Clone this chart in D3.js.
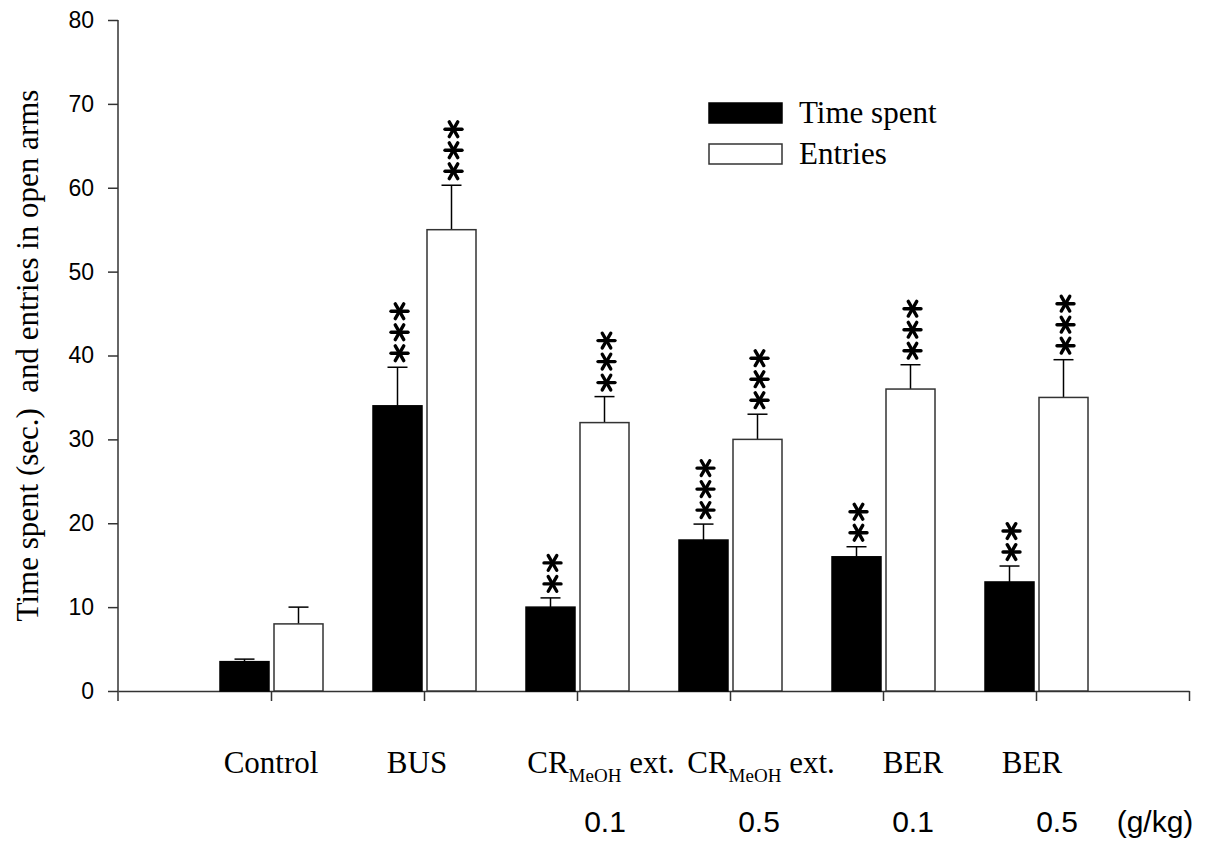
<!DOCTYPE html>
<html>
<head>
<meta charset="utf-8">
<script src="https://cdn.jsdelivr.net/npm/d3@7"></script>
<style>
  body { margin: 0; background: #fff; }
  svg { display: block; }
</style>
</head>
<body>
<script>
'use strict';

// values
const groups      = ['Control', 'BUS', 'CR|MeOH| ext.', 'CR|MeOH| ext.', 'BER', 'BER']
const doses       = ['', '', '0.1', '0.5', '0.1', '0.5']
const doseUnit    = '(g/kg)'
const timeSpent   = [3.5, 34, 10, 18, 16, 13]
const timeErr     = [0.3, 4.6, 1.1, 1.9, 1.2, 1.9]
const entries     = [8, 55, 32, 30, 36, 35]
const entriesErr  = [2, 5.3, 3.1, 3, 2.9, 4.5]
const timeStars   = [0, 3, 2, 3, 2, 2]
const entryStars  = [0, 3, 3, 3, 3, 3]
const yTicks      = [0, 10, 20, 30, 40, 50, 60, 70, 80]
const seriesNames = ['Time spent', 'Entries']

const W = 1227, H = 854
const SERIF = '"Liberation Serif", "Times New Roman", serif'
const SANS  = '"Liberation Sans", Arial, sans-serif'
const INK   = '#000'
const AXIS  = '#333'

const barW = 49
const capW = 20

const svg = d3.select('body')
  .append('svg')
  .attr('width', W)
  .attr('height', H)

const x = d3.scaleLinear().domain([0, groups.length + 1]).range([118, 1189])
const y = d3.scaleLinear().domain([0, 80]).range([691, 20])

// y axis
const yAxis = svg.append('g')
  .attr('transform', `translate(${ x(0) },0)`)
  .call(d3.axisLeft(y).tickValues(yTicks).tickSize(10).tickPadding(14).tickSizeOuter(0))
yAxis.select('.domain').remove()
yAxis.selectAll('.tick line').attr('stroke', AXIS).attr('stroke-width', 1.5)
yAxis.selectAll('.tick text')
  .attr('fill', INK)
  .style('font-family', SANS)
  .style('font-size', '23px')
svg.append('line')
  .attr('x1', x(0)).attr('x2', x(0))
  .attr('y1', y(80)).attr('y2', y(0) + 10)
  .attr('stroke', AXIS).attr('stroke-width', 1.5)

// x axis
const xAxis = svg.append('g')
  .attr('transform', `translate(0,${ y(0) })`)
  .call(d3.axisBottom(x).tickValues(d3.range(1, groups.length + 2)).tickSize(10).tickSizeOuter(0).tickFormat(''))
xAxis.select('.domain').attr('stroke', AXIS).attr('stroke-width', 1.5)
xAxis.selectAll('.tick line').attr('stroke', AXIS).attr('stroke-width', 1.5)

// bars
const series = [
  { vals: timeSpent, errs: timeErr,    stars: timeStars,  fill: '#000', stroke: '#000', off: -barW - 2 },
  { vals: entries,   errs: entriesErr, stars: entryStars, fill: '#fff', stroke: '#333', off: 3 }
]

series.forEach(s => {
  const g = svg.append('g')
  const idx = d3.range(groups.length)

  // error bars (upper only)
  g.selectAll('line.err')
    .data(idx).join('line')
    .attr('class', 'err')
    .attr('x1', i => x(i + 1) + s.off + barW / 2)
    .attr('x2', i => x(i + 1) + s.off + barW / 2)
    .attr('y1', i => y(s.vals[i]))
    .attr('y2', i => y(s.vals[i] + s.errs[i]))
    .attr('stroke', INK).attr('stroke-width', 1.5)
  g.selectAll('line.cap')
    .data(idx).join('line')
    .attr('class', 'cap')
    .attr('x1', i => x(i + 1) + s.off + barW / 2 - capW / 2)
    .attr('x2', i => x(i + 1) + s.off + barW / 2 + capW / 2)
    .attr('y1', i => y(s.vals[i] + s.errs[i]))
    .attr('y2', i => y(s.vals[i] + s.errs[i]))
    .attr('stroke', INK).attr('stroke-width', 1.5)

  g.selectAll('rect')
    .data(idx).join('rect')
    .attr('x', i => x(i + 1) + s.off)
    .attr('y', i => y(s.vals[i]))
    .attr('width', barW)
    .attr('height', i => y(0) - y(s.vals[i]))
    .attr('fill', s.fill)
    .attr('stroke', s.stroke)
    .attr('stroke-width', 1.5)

  // significance asterisks
  idx.forEach(i => {
    const cx = x(i + 1) + s.off + barW / 2 + 2
    const top = y(s.vals[i] + s.errs[i])
    for (let k = 0; k < s.stars[i]; k++) {
      drawStar(cx, top - 14 - k * 21)
    }
  })
})

function drawStar(cx, cy) {
  const r = 8.5
  const g = svg.append('g').attr('transform', `translate(${ cx },${ cy })`)
  ;[0, 60, 120].forEach(a => {
    const t = a * Math.PI / 180
    g.append('line')
      .attr('x1', -r * Math.cos(t)).attr('y1', -r * Math.sin(t))
      .attr('x2',  r * Math.cos(t)).attr('y2',  r * Math.sin(t))
      .attr('stroke', INK)
      .attr('stroke-width', 3.4)
      .attr('stroke-linecap', 'round')
  })
}

// category labels (small nudges to match the original placement)
const labelNudge = [0, -7, 24, 31, 30, -4]
const doseNudge  = [0, 0, 28, 29, 30, 21]

groups.forEach((name, i) => {
  const parts = name.split('|')
  const t = svg.append('text')
    .attr('x', x(i + 1) + labelNudge[i])
    .attr('y', 773)
    .attr('text-anchor', 'middle')
    .style('font-family', SERIF)
    .style('font-size', '31px')
    .attr('fill', INK)
  t.append('tspan').text(parts[0])
  if (parts.length > 1) {
    t.append('tspan').attr('dy', 9).style('font-size', '19px').text(parts[1])
    t.append('tspan').attr('dy', -9).text(parts[2])
  }
})

doses.forEach((d, i) => {
  if (!d) return
  svg.append('text')
    .attr('x', x(i + 1) + doseNudge[i])
    .attr('y', 832)
    .attr('text-anchor', 'middle')
    .style('font-family', SANS)
    .style('font-size', '30px')
    .attr('fill', INK)
    .text(d)
})
svg.append('text')
  .attr('x', 1155)
  .attr('y', 832)
  .attr('text-anchor', 'middle')
  .style('font-family', SANS)
  .style('font-size', '30px')
  .attr('fill', INK)
  .text(doseUnit)

// y title
svg.append('text')
  .attr('transform', `translate(38,${ y(40) }) rotate(-90)`)
  .attr('text-anchor', 'middle')
  .style('font-family', SERIF)
  .style('font-size', '31px')
  .style('white-space', 'pre')
  .attr('fill', INK)
  .text('Time spent (sec.)  and entries in open arms')

// legend
const legend = svg.append('g').attr('transform', 'translate(709,103)')
seriesNames.forEach((name, i) => {
  legend.append('rect')
    .attr('x', 0).attr('y', i * 41)
    .attr('width', 73).attr('height', 20)
    .attr('fill', series[i].fill)
    .attr('stroke', series[i].stroke)
    .attr('stroke-width', 1.5)
  legend.append('text')
    .attr('x', 90).attr('y', i * 41 + 20)
    .style('font-family', SERIF)
    .style('font-size', '31px')
    .attr('fill', INK)
    .text(name)
})
</script>
</body>
</html>
